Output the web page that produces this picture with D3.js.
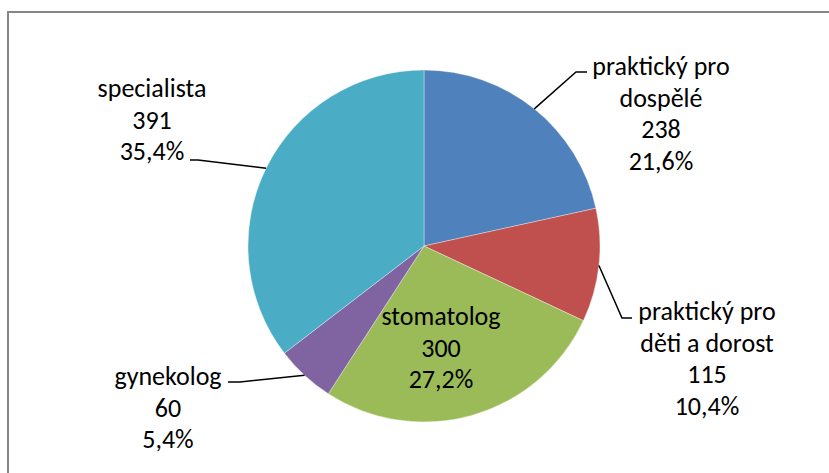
<!DOCTYPE html>
<html>
<head>
<meta charset="utf-8">
<script src="https://cdn.jsdelivr.net/npm/d3@7/dist/d3.min.js"></script>
<style>
  html, body { margin: 0; padding: 0; background: #fff; }
  svg { display: block; }
  text { font-family: Carlito, Calibri, Lato, "Open Sans", sans-serif; fill: #000; }
</style>
</head>
<body>
<svg id="chart" width="829" height="473"></svg>
<script>
// Počet lékařů podle odbornosti
const categories = [
  ["praktický pro", "dospělé"],
  ["praktický pro", "děti a dorost"],
  ["stomatolog"],
  ["gynekolog"],
  ["specialista"]
];
const values = [238, 115, 300, 60, 391];
const colors = ["#4F81BD", "#C0504D", "#9BBB59", "#8064A2", "#4BACC6"];

// Label placement: text centre x, first baseline y, leader elbow and leader end (null = inside label)
const labelLayout = [
  { x: 661, y: 75,  elbow: [576, 72],  end: [587, 72] },
  { x: 707, y: 320, elbow: [622, 318], end: [632, 318] },
  { x: 441, y: 325, elbow: null, end: null },
  { x: 168, y: 385, elbow: [240, 382], end: [228, 382] },
  { x: 152, y: 97,  elbow: [198, 160], end: [190, 160] }
];

const svg = d3.select("#chart");
const cx = 424, cy = 246, radius = 176;
const lineH = 31.7;

// Chart area frame
svg.append("rect")
  .attr("x", 8).attr("y", 12)
  .attr("width", 900).attr("height", 600)
  .attr("fill", "none")
  .attr("stroke", "#868686")
  .attr("stroke-width", 2);

const total = d3.sum(values);
const data = values.map((v, i) => ({ value: v, name: categories[i], color: colors[i], layout: labelLayout[i] }));

const pie = d3.pie().value(d => d.value).sort(null);
const arc = d3.arc().innerRadius(0).outerRadius(radius);
const arcs = pie(data);

const g = svg.append("g").attr("transform", `translate(${cx},${cy})`);

g.selectAll("path.slice")
  .data(arcs)
  .join("path")
  .attr("class", "slice")
  .attr("d", arc)
  .attr("fill", d => d.data.color)
  .attr("stroke", "rgba(255,255,255,0.45)")
  .attr("stroke-width", 0.8);

// Leader lines from the slice edge to the label
arcs.forEach(a => {
  const L = a.data.layout;
  if (!L.elbow) return;
  const mid = (a.startAngle + a.endAngle) / 2;
  const sx = cx + radius * Math.sin(mid);
  const sy = cy - radius * Math.cos(mid);
  svg.append("polyline")
    .attr("points", [[sx, sy], L.elbow, L.end].map(p => p.join(",")).join(" "))
    .attr("fill", "none")
    .attr("stroke", "#000")
    .attr("stroke-width", 1.5);
});

const fmtPct = v => (v / total * 100).toFixed(1).replace(".", ",") + "%";

arcs.forEach(a => {
  const L = a.data.layout;
  const lines = [...a.data.name, String(a.data.value), fmtPct(a.data.value)];
  const t = svg.append("text")
    .attr("text-anchor", "middle")
    .attr("font-size", 26);
  lines.forEach((s, i) => {
    t.append("tspan")
      .attr("x", L.x)
      .attr("y", L.y + i * lineH)
      .text(s);
  });
});
</script>
</body>
</html>
